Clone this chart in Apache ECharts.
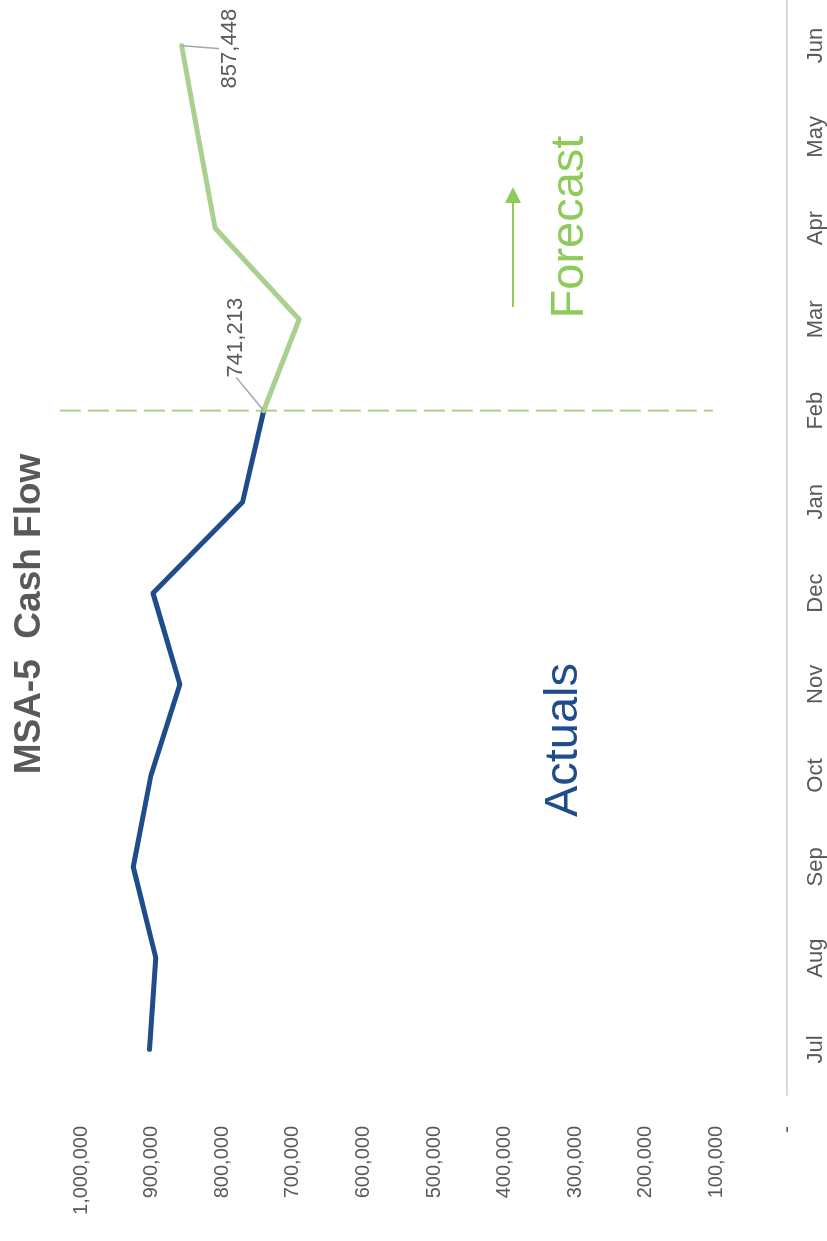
<!DOCTYPE html>
<html>
<head>
<meta charset="utf-8">
<script src="https://cdn.jsdelivr.net/npm/echarts@6/dist/echarts.min.js"></script>
<style>
html,body{margin:0;padding:0;width:827px;height:1241px;overflow:hidden;background:#fff;}
#chart{position:absolute;left:0;top:0;width:1241px;height:827px;transform-origin:0 0;transform:translate(0,1241px) rotate(-90deg);}
</style>
</head>
<body>
<div id="chart"></div>
<script>
const months = ['Jul','Aug','Sep','Oct','Nov','Dec','Jan','Feb','Mar','Apr','May','Jun'];
const actuals = [903000, 894000, 926000, 901000, 860000, 898000, 771000, 741213, null, null, null, null];
const forecast = [null, null, null, null, null, null, null, 741213, 691000, 810000, 834000, 857448];
const valueTicks = {min: 0, max: 1000000, interval: 100000};
const dividerMonth = 'Feb';
const dividerRange = [1030000, 105000];

const FONT = '"Liberation Sans", Arial, sans-serif';
const BLUE = '#1F4C8A';
const GREEN_LINE = '#A9D08E';
const GREEN_TEXT = '#8FCB5A';
const GRAY = '#595959';

function fmt(v){ return v === 0 ? '-' : v.toLocaleString('en-US'); }

function labelled(arr, idx, cfg){
  return arr.map((v,i)=> {
    if (v === null) return '-';
    if (idx.indexOf(i) >= 0) return {value: v, label: Object.assign({show:true}, cfg[i])};
    return v;
  });
}

const chart = echarts.init(document.getElementById('chart'), null, {renderer:'canvas'});
const option = {
  animation: false,
  backgroundColor: '#fff',
  title: {
    text: 'MSA-5  Cash Flow',
    left: 622, top: 6, textAlign: 'center',
    textStyle: {fontFamily: FONT, fontSize: 37, fontWeight: 'bold', color: GRAY}
  },
  grid: {left: 146, width: 1098, top: 81, bottom: 40, containLabel: false},
  xAxis: {
    type: 'category', data: months, boundaryGap: true,
    axisLine: {show: true, lineStyle: {color: '#D9D9D9', width: 2}},
    axisTick: {show: false},
    axisLabel: {color: GRAY, fontFamily: FONT, fontSize: 22, margin: 18}
  },
  yAxis: {
    type: 'value', min: valueTicks.min, max: valueTicks.max, interval: valueTicks.interval,
    splitLine: {show: false}, axisLine: {show: false}, axisTick: {show: false},
    axisLabel: {color: GRAY, fontFamily: FONT, fontSize: 20, margin: 31, formatter: fmt}
  },
  series: [
    {
      name: 'Actuals', type: 'line', data: actuals, connectNulls: false,
      showSymbol: false, symbol: 'none',
      lineStyle: {color: BLUE, width: 5, cap: 'round', join: 'round'},
      z: 2
    },
    {
      name: 'Forecast', type: 'line',
      data: labelled(forecast, [7, 11], {
        7: {position: 'top', formatter: p => fmt(p.value)},
        11: {position: 'bottom', formatter: p => fmt(p.value)}
      }),
      showSymbol: true, symbol: 'circle', symbolSize: 1,
      itemStyle: {color: GREEN_LINE},
      lineStyle: {color: GREEN_LINE, width: 5, cap: 'round', join: 'round'},
      label: {show: false, color: GRAY, fontFamily: FONT, fontSize: 22},
      labelLine: {show: true, lineStyle: {color: '#A6A6A6', width: 1.5}},
      labelLayout: function(p){
        if (p.dataIndex === 7) return {dx: 73, dy: -11};
        if (p.dataIndex === 11) return {dx: -3, dy: 32};
        return {};
      },
      clip: false,
      z: 3
    }
  ]
};
chart.setOption(option);

// dashed divider at the forecast start, positioned through the chart's own scales
const p0 = chart.convertToPixel({gridIndex: 0}, [dividerMonth, dividerRange[0]]);
const p1 = chart.convertToPixel({gridIndex: 0}, [dividerMonth, dividerRange[1]]);

chart.setOption({
  graphic: [
    {type: 'line', z: 1, shape: {x1: p0[0], y1: p0[1], x2: p1[0], y2: p1[1]},
      style: {stroke: GREEN_LINE, lineWidth: 2, lineDash: [21, 7]}},
    {type: 'text', style: {text: 'Actuals', x: 501, y: 564, align: 'center', verticalAlign: 'middle',
      fill: BLUE, font: '47px ' + FONT}},
    {type: 'text', style: {text: 'Forecast', x: 1014, y: 570, align: 'center', verticalAlign: 'middle',
      fill: GREEN_TEXT, font: '47px ' + FONT}},
    {type: 'line', shape: {x1: 934, y1: 513, x2: 1042, y2: 513}, style: {stroke: GREEN_TEXT, lineWidth: 2}},
    {type: 'polygon', shape: {points: [[1054, 513], [1038, 505], [1038, 521]]}, style: {fill: GREEN_TEXT}}
  ]
});
</script>
</body>
</html>
